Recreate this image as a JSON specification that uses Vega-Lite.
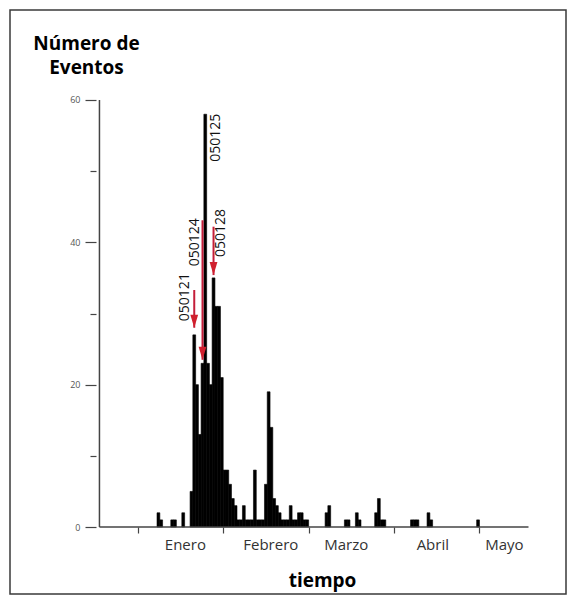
{
  "$schema": "https://vega.github.io/schema/vega-lite/v6.json",
  "width": 556,
  "height": 584,
  "padding": {"left": 10, "top": 10, "right": 5, "bottom": 2},
  "autosize": {"type": "none"},
  "background": "white",
  "config": {
    "font": "Open Sans",
    "view": {"stroke": "#3a3a3a", "strokeWidth": 1.5}
  },
  "datasets": {
    "eventos": [
      {"dia": 8, "eventos": 2}, {"dia": 9, "eventos": 1}, {"dia": 13, "eventos": 1}, {"dia": 14, "eventos": 1},
      {"dia": 17, "eventos": 2}, {"dia": 20, "eventos": 5}, {"dia": 21, "eventos": 27}, {"dia": 22, "eventos": 20},
      {"dia": 23, "eventos": 13}, {"dia": 24, "eventos": 23}, {"dia": 25, "eventos": 58}, {"dia": 26, "eventos": 23},
      {"dia": 27, "eventos": 20}, {"dia": 28, "eventos": 35}, {"dia": 29, "eventos": 31}, {"dia": 30, "eventos": 31},
      {"dia": 31, "eventos": 21}, {"dia": 32, "eventos": 8}, {"dia": 33, "eventos": 8}, {"dia": 34, "eventos": 6},
      {"dia": 35, "eventos": 4}, {"dia": 36, "eventos": 3}, {"dia": 37, "eventos": 1}, {"dia": 38, "eventos": 1},
      {"dia": 39, "eventos": 3}, {"dia": 40, "eventos": 1}, {"dia": 41, "eventos": 1}, {"dia": 42, "eventos": 1},
      {"dia": 43, "eventos": 8}, {"dia": 44, "eventos": 1}, {"dia": 45, "eventos": 1}, {"dia": 46, "eventos": 1},
      {"dia": 47, "eventos": 6}, {"dia": 48, "eventos": 19}, {"dia": 49, "eventos": 14}, {"dia": 50, "eventos": 4},
      {"dia": 51, "eventos": 3}, {"dia": 52, "eventos": 2}, {"dia": 53, "eventos": 1}, {"dia": 54, "eventos": 1},
      {"dia": 55, "eventos": 1}, {"dia": 56, "eventos": 3}, {"dia": 57, "eventos": 1}, {"dia": 58, "eventos": 1},
      {"dia": 59, "eventos": 2}, {"dia": 60, "eventos": 2}, {"dia": 61, "eventos": 1}, {"dia": 62, "eventos": 1},
      {"dia": 69, "eventos": 2}, {"dia": 70, "eventos": 3}, {"dia": 76, "eventos": 1}, {"dia": 77, "eventos": 1},
      {"dia": 80, "eventos": 2}, {"dia": 81, "eventos": 1}, {"dia": 87, "eventos": 2}, {"dia": 88, "eventos": 4},
      {"dia": 89, "eventos": 1}, {"dia": 90, "eventos": 1}, {"dia": 100, "eventos": 1}, {"dia": 101, "eventos": 1},
      {"dia": 102, "eventos": 1}, {"dia": 106, "eventos": 2}, {"dia": 107, "eventos": 1}, {"dia": 124, "eventos": 1}
    ],
    "anotaciones": [
      {"fecha": "050121", "dia": 21, "desde": 33.3, "hasta": 28.0, "texto_dia": 17.6, "texto_y": 32.3},
      {"fecha": "050124", "dia": 24, "desde": 43.1, "hasta": 23.5, "texto_dia": 21.2, "texto_y": 40.0},
      {"fecha": "050125", "dia": 25, "desde": null, "hasta": null, "texto_dia": 29.0, "texto_y": 54.7},
      {"fecha": "050128", "dia": 28, "desde": 42.2, "hasta": 35.4, "texto_dia": 30.8, "texto_y": 41.3}
    ],
    "ejes": [{"eje": "tiempo"}]
  },
  "layer": [
    {
      "data": {"name": "eventos"},
      "mark": {"type": "bar", "color": "black", "width": 2.81, "stroke": "black", "strokeWidth": 0.6},
      "encoding": {
        "x": {
          "field": "dia", "type": "quantitative",
          "scale": {"domain": [-44.05, 154.1], "nice": false, "zero": false},
          "axis": {
            "orient": "bottom", "offset": -67, "values": [0.5, 31.5, 62.5, 93.5, 124.5],
            "labels": false, "domain": false, "grid": false, "ticks": true,
            "tickSize": 6, "tickColor": "#444", "tickWidth": 1.2, "title": null
          }
        },
        "y": {
          "field": "eventos", "type": "quantitative",
          "scale": {"domain": [-9.414, 72.646], "nice": false, "zero": false},
          "axis": {
            "orient": "left", "offset": -86, "values": [0, 20, 40, 60],
            "domain": false, "grid": false, "tickSize": 11, "tickColor": "#444", "tickWidth": 1.2,
            "labelFontSize": 9, "labelColor": "#555", "labelPadding": 5, "labelOverlap": false,
            "title": ["Número de", "Eventos"], "titleAngle": 0, "titleAlign": "center",
            "titleBaseline": "alphabetic", "titleX": -10, "titleY": 39,
            "titleFontSize": 19, "titleFontWeight": "bold", "titleLineHeight": 24, "titleColor": "black"
          }
        }
      }
    },
    {
      "data": {"name": "ejes"},
      "mark": {"type": "rule", "color": "#444", "strokeWidth": 1.5},
      "encoding": {
        "x": {
          "datum": -13.4, "type": "quantitative",
          "scale": {"domain": [-44.05, 154.1], "nice": false, "zero": false},
          "axis": {
            "orient": "bottom", "offset": -67, "values": [17.6, 48.6, 76, 107.4, 133.4],
            "ticks": false, "domain": false, "grid": false, "labelOverlap": false, "labelFlush": false,
            "labelExpr": "datum.value < 30 ? 'Enero' : datum.value < 60 ? 'Febrero' : datum.value < 90 ? 'Marzo' : datum.value < 120 ? 'Abril' : 'Mayo'",
            "labelFontSize": 15, "labelColor": "#333", "labelPadding": 10,
            "title": "tiempo", "titleFontSize": 19, "titleFontWeight": "bold", "titleColor": "black",
            "titleX": 312, "titleY": 53, "titleAlign": "center", "titleBaseline": "middle"
          }
        },
        "x2": {"datum": 142.3},
        "y": {
          "datum": 0, "type": "quantitative",
          "scale": {"domain": [-9.414, 72.646], "nice": false, "zero": false},
          "axis": {
            "orient": "left", "offset": -86, "values": [10, 30, 50],
            "domain": false, "grid": false, "labels": false, "tickSize": 6, "tickColor": "#444", "tickWidth": 1.2,
            "title": null
          }
        }
      }
    },
    {
      "data": {"name": "ejes"},
      "mark": {"type": "rule", "color": "#444", "strokeWidth": 1.5},
      "encoding": {
        "x": {"datum": -13.4, "type": "quantitative", "scale": {"domain": [-44.05, 154.1], "nice": false, "zero": false}, "axis": null},
        "y": {"datum": 0, "type": "quantitative", "scale": {"domain": [-9.414, 72.646], "nice": false, "zero": false}, "axis": null},
        "y2": {"datum": 60}
      }
    },
    {
      "data": {"name": "anotaciones"},
      "transform": [{"filter": "datum.desde != null"}],
      "mark": {"type": "rule", "color": "#c41e3a", "strokeWidth": 2},
      "encoding": {
        "x": {"field": "dia", "type": "quantitative", "scale": {"domain": [-44.05, 154.1], "nice": false, "zero": false}, "axis": null},
        "y": {"field": "desde", "type": "quantitative", "scale": {"domain": [-9.414, 72.646], "nice": false, "zero": false}, "axis": null},
        "y2": {"field": "hasta"}
      }
    },
    {
      "data": {"name": "anotaciones"},
      "transform": [{"filter": "datum.hasta != null"}],
      "mark": {"type": "point", "shape": "M-0.6,-1L0.6,-1L0,1Z", "filled": true, "color": "#d0202e", "opacity": 1, "size": 169, "yOffset": -6.5},
      "encoding": {
        "x": {"field": "dia", "type": "quantitative", "scale": {"domain": [-44.05, 154.1], "nice": false, "zero": false}, "axis": null},
        "y": {"field": "hasta", "type": "quantitative", "scale": {"domain": [-9.414, 72.646], "nice": false, "zero": false}, "axis": null}
      }
    },
    {
      "data": {"name": "anotaciones"},
      "mark": {"type": "text", "angle": 270, "fontSize": 14, "align": "center", "baseline": "middle", "color": "#111"},
      "encoding": {
        "x": {"field": "texto_dia", "type": "quantitative", "scale": {"domain": [-44.05, 154.1], "nice": false, "zero": false}, "axis": null},
        "y": {"field": "texto_y", "type": "quantitative", "scale": {"domain": [-9.414, 72.646], "nice": false, "zero": false}, "axis": null},
        "text": {"field": "fecha"}
      }
    }
  ],
  "resolve": {"axis": {"x": "independent", "y": "independent"}}
}
